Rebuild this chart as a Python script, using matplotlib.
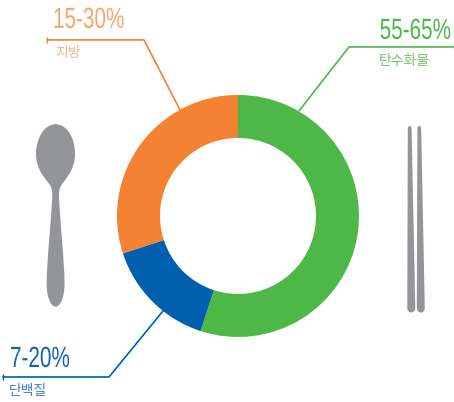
import matplotlib
matplotlib.use('Agg')
from matplotlib import pyplot as plt
from matplotlib.patches import PathPatch
from matplotlib.path import Path
from matplotlib.patheffects import AbstractPathEffect
from matplotlib.transforms import Affine2D

NUTRIENTS = ['탄수화물', '단백질', '지방']
SHARES = [55, 15, 30]
RANGES = ['55-65%', '7-20%', '15-30%']
COLORS = ['#4DB848', '#0060AF', '#F58233']
TEXT_COLORS = ['#4DB848', '#1462B0', '#F9A56C']
GRAY = '#939598'
HEIGHT = 402

plt.rcParams['font.family'] = ['Noto Sans CJK KR', 'DejaVu Sans']


class Squeeze(AbstractPathEffect):
    """Narrows glyphs horizontally around a fixed display x, for a condensed look."""

    def __init__(self, x_anchor, factor):
        super().__init__()
        self.x_anchor = x_anchor
        self.factor = factor

    def draw_path(self, renderer, gc, tpath, affine, rgbFace=None):
        squeeze = Affine2D().translate(-self.x_anchor, 0).scale(self.factor, 1).translate(self.x_anchor, 0)
        renderer.draw_path(gc, tpath, affine + squeeze, rgbFace)


def flip(points):
    return [(x, HEIGHT - y) for x, y in points]


def add_leader(ax, points, color):
    xs, ys = zip(*flip(points))
    ax.plot(xs, ys, color=color, lw=1.2, solid_joinstyle='miter')
    # little end cap on the horizontal run
    ax.plot([xs[0]], [ys[0]], marker='|', ms=4, mew=1, color=color)


def add_label(ax, x_range, y_range, x_name, y_name, idx, ha='left'):
    ax.text(x_range, HEIGHT - y_range, RANGES[idx], family='Liberation Sans', fontsize=21,
            color=TEXT_COLORS[idx], ha=ha, va='center', path_effects=[Squeeze(x_range, 0.71)])
    ax.text(x_name, HEIGHT - y_name, NUTRIENTS[idx], fontsize=10, color=TEXT_COLORS[idx], alpha=0.8,
            ha='left', va='center')


def add_spoon(ax):
    verts = [
        (55.7, 124.3),
        (67, 124.3), (75, 138), (75, 154),
        (75, 166), (70, 174), (63, 183),
        (60.5, 186), (59, 189), (59, 195),
        (60, 225), (64.5, 260), (64.5, 284),
        (64.5, 298), (60, 306.7), (55.7, 306.7),
        (51, 306.7), (46.7, 298), (46.7, 284),
        (46.7, 260), (51, 225), (52.3, 195),
        (52.3, 189), (51, 186), (48.5, 183),
        (41, 174), (36, 166), (36, 154),
        (36, 138), (44.5, 124.3), (55.7, 124.3),
    ]
    codes = [Path.MOVETO] + [Path.CURVE4] * (len(verts) - 1)
    ax.add_patch(PathPatch(Path(flip(verts), codes), fc=GRAY, ec='none'))


def add_chopstick(ax, x_top, x_bottom):
    top_half, bottom_half = 1.9, 4.0
    verts = [
        (x_top - top_half, 130),
        (x_top - top_half, 127), (x_top - 1, 126), (x_top, 126),
        (x_top + 1, 126), (x_top + top_half, 127), (x_top + top_half, 130),
        (x_bottom + bottom_half, 308),
        (x_bottom + bottom_half, 311), (x_bottom + 2, 312.5), (x_bottom, 312.5),
        (x_bottom - 2, 312.5), (x_bottom - bottom_half, 311), (x_bottom - bottom_half, 308),
        (x_top - top_half, 130),
    ]
    codes = [Path.MOVETO] + [Path.CURVE4] * 6 + [Path.LINETO] + [Path.CURVE4] * 6 + [Path.CLOSEPOLY]
    ax.add_patch(PathPatch(Path(flip(verts), codes), fc=GRAY, ec='none'))


# 4.02 in alone truncates to 401 px at this dpi
fig = plt.figure(figsize=(4.54, 4.021), dpi=100)
ax = fig.add_axes([0, 0, 1, 1])

ax.pie(SHARES, colors=COLORS, center=(238, HEIGHT - 216), radius=121, startangle=90, counterclock=False,
       wedgeprops={'width': 43, 'linewidth': 0}, frame=True)

add_leader(ax, [(454, 47), (349, 47), (299, 111)], COLORS[0])
add_leader(ax, [(3, 377), (109, 377), (163, 311)], COLORS[1])
add_leader(ax, [(47, 40), (144, 40), (180, 110)], COLORS[2])

add_label(ax, 451, 31, 379, 61, 0, ha='right')
add_label(ax, 10, 359, 9, 391, 1)
add_label(ax, 53, 20, 55, 53, 2)

add_spoon(ax)
add_chopstick(ax, 409.7, 411.3)
add_chopstick(ax, 419.3, 420.8)

ax.set_xlim(0, 454)
ax.set_ylim(0, HEIGHT)
ax.set_aspect('auto')
ax.axis('off')

fig.savefig('out.png', dpi=100)
plt.close(fig)
